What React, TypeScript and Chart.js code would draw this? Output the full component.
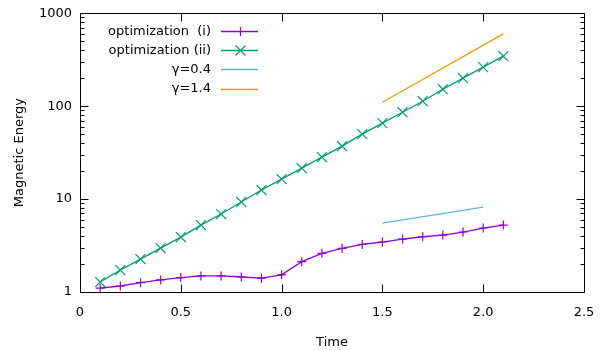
import React, { useEffect, useRef } from "react";
import { Chart, registerables } from "chart.js";

Chart.register(...registerables);

const timeValues = [0.1, 0.2, 0.3, 0.4, 0.5, 0.6, 0.7, 0.8, 0.9, 1.0, 1.1, 1.2, 1.3, 1.4, 1.5, 1.6, 1.7, 1.8, 1.9, 2.0, 2.1];
const energyOptI = [1.10, 1.16, 1.26, 1.35, 1.43, 1.49, 1.49, 1.45, 1.41, 1.53, 2.12, 2.61, 2.95, 3.25, 3.45, 3.71, 3.93, 4.10, 4.42, 4.88, 5.25];
const energyOptII = [1.28, 1.72, 2.26, 2.97, 3.90, 5.25, 6.9, 9.3, 12.5, 16.4, 21.5, 28.3, 37.1, 50, 65.6, 86, 113, 152, 200, 263, 345];
const gamma04Time = [1.5, 2.0];
const gamma04Energy = [5.5, 8.2];
const gamma14Time = [1.5, 2.1];
const gamma14Energy = [110, 600];
const yMajorTicks = [1, 10, 100, 1000];
const seriesLabels = ["optimization  (i)", "optimization (ii)", "γ=0.4", "γ=1.4"];
const seriesColors = ["#9400d3", "#009e73", "#56b4e9", "#e69f00"];

const FONT = "DejaVu Sans";

const toPoints = (xs: number[], ys: number[]) => xs.map((x, i) => ({ x, y: ys[i] }));

const framePlugin = {
  id: "gnuFrame",
  afterDatasetsDraw(chart: any) {
    const { ctx, chartArea } = chart;
    const { left, right, top, bottom } = chartArea;
    const xs = chart.scales.x;
    const ys = chart.scales.y;
    ctx.save();
    ctx.strokeStyle = "#000";
    ctx.lineWidth = 1;
    ctx.beginPath();
    const L = Math.round(left) + 0.5, R = Math.round(right) + 0.5, T = Math.round(top) + 0.5, B = Math.round(bottom) + 0.5;
    ctx.rect(L, T, R - L, B - T);
    for (let v = 0; v <= 2.5001; v += 0.5) {
      const px = Math.round(xs.getPixelForValue(v)) + 0.5;
      ctx.moveTo(px, B); ctx.lineTo(px, B - 8);
      ctx.moveTo(px, T); ctx.lineTo(px, T + 8);
    }
    for (let d = 1; d <= 1000; d *= 10) {
      for (let m = 1; m <= 9; m++) {
        const v = d * m;
        if (v > 1000) break;
        const py = Math.round(ys.getPixelForValue(v)) + 0.5;
        const len = m === 1 ? 8 : 4;
        ctx.moveTo(L, py); ctx.lineTo(L + len, py);
        ctx.moveTo(R, py); ctx.lineTo(R - len, py);
      }
    }
    ctx.stroke();

    const rowY0 = 30.7;
    const rowStep = 19.3;
    ctx.font = `13px "${FONT}"`;
    ctx.fillStyle = "#000";
    ctx.textAlign = "right";
    ctx.textBaseline = "middle";
    seriesLabels.forEach((label, i) => {
      const y = rowY0 + i * rowStep;
      ctx.fillText(label, 211, y + 0.5);
      ctx.strokeStyle = seriesColors[i];
      ctx.lineWidth = 1.3;
      ctx.beginPath();
      ctx.moveTo(221, Math.round(y) + 0.5);
      ctx.lineTo(258, Math.round(y) + 0.5);
      ctx.stroke();
      const cx = 240.5, cy = Math.round(y) + 0.5;
      ctx.lineWidth = 1.2;
      if (i === 0) {
        ctx.beginPath();
        ctx.moveTo(cx - 4.5, cy); ctx.lineTo(cx + 4.5, cy);
        ctx.moveTo(cx, cy - 4.5); ctx.lineTo(cx, cy + 4.5);
        ctx.stroke();
      } else if (i === 1) {
        ctx.beginPath();
        ctx.moveTo(cx - 5, cy - 5); ctx.lineTo(cx + 5, cy + 5);
        ctx.moveTo(cx - 5, cy + 5); ctx.lineTo(cx + 5, cy - 5);
        ctx.stroke();
      }
    });
    ctx.restore();
  },
};

export default function App() {
  const canvasRef = useRef<HTMLCanvasElement | null>(null);

  useEffect(() => {
    if (!canvasRef.current) return;
    const chart = new Chart(canvasRef.current, {
      type: "line",
      data: {
        datasets: [
          {
            label: seriesLabels[0],
            data: toPoints(timeValues, energyOptI),
            borderColor: seriesColors[0],
            backgroundColor: seriesColors[0],
            borderWidth: 1.3,
            pointStyle: "cross",
            pointRadius: 4.5,
            pointBorderWidth: 1.2,
            tension: 0,
          },
          {
            label: seriesLabels[1],
            data: toPoints(timeValues, energyOptII),
            borderColor: seriesColors[1],
            backgroundColor: seriesColors[1],
            borderWidth: 1.3,
            pointStyle: "crossRot",
            pointRadius: 7,
            pointBorderWidth: 1.2,
            tension: 0,
          },
          {
            label: seriesLabels[2],
            data: toPoints(gamma04Time, gamma04Energy),
            borderColor: seriesColors[2],
            backgroundColor: seriesColors[2],
            borderWidth: 1.3,
            pointRadius: 0,
            tension: 0,
          },
          {
            label: seriesLabels[3],
            data: toPoints(gamma14Time, gamma14Energy),
            borderColor: seriesColors[3],
            backgroundColor: seriesColors[3],
            borderWidth: 1.3,
            pointRadius: 0,
            tension: 0,
          },
        ],
      },
      options: {
        animation: false,
        responsive: true,
        maintainAspectRatio: false,
        layout: { padding: { top: 13, right: 19, left: 0, bottom: 0 } },
        plugins: { legend: { display: false }, tooltip: { enabled: false } },
        scales: {
          x: {
            type: "linear",
            min: 0,
            max: 2.5,
            ticks: { stepSize: 0.5, color: "#000", font: { family: FONT, size: 13, lineHeight: 2.4 }, padding: 5, maxRotation: 0 },
            grid: { display: false, drawTicks: false },
            border: { display: false },
            title: { display: true, text: "Time", color: "#000", font: { family: FONT, size: 13 }, padding: { top: 0, bottom: 0 } },
            afterFit: (s: any) => { s.height = 58; },
          },
          y: {
            type: "logarithmic",
            min: 1,
            max: 1000,
            afterBuildTicks: (s: any) => { s.ticks = yMajorTicks.map((v) => ({ value: v })); },
            ticks: { color: "#000", font: { family: FONT, size: 13, lineHeight: 0.8 }, padding: 8, autoSkip: false, callback: (v: any) => String(v) },
            grid: { display: false, drawTicks: false },
            border: { display: false },
            title: { display: true, text: "Magnetic Energy", color: "#000", font: { family: FONT, size: 13 }, padding: { top: 12, bottom: 0 } },
            afterFit: (s: any) => { s.width = 80; },
          },
        },
      },
      plugins: [framePlugin],
    });
    return () => chart.destroy();
  }, []);

  return (
    <div style={{ position: "absolute", left: 0, top: 0, width: 603, height: 350 }}>
      <canvas ref={canvasRef} />
    </div>
  );
}
